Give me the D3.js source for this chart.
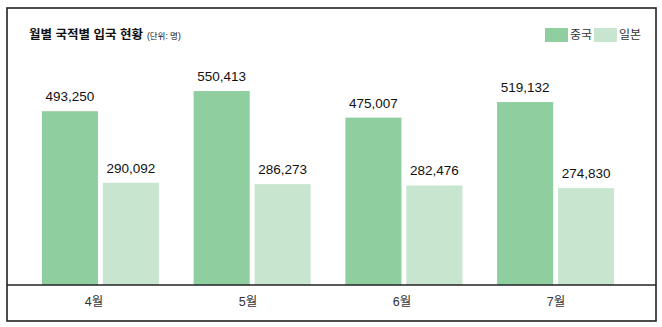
<!DOCTYPE html>
<html>
<head>
<meta charset="utf-8">
<script src="https://cdn.jsdelivr.net/npm/d3@7"></script>
<style>
  body { margin: 0; background: #fff; }
  text { font-family: "Liberation Sans", Arial, "Noto Sans CJK KR", sans-serif; }
</style>
</head>
<body>
<script>
var months = ["4월", "5월", "6월", "7월"],
  seriesNames = ["중국", "일본"],
  china = [493250, 550413, 475007, 519132],
  japan = [290092, 286273, 282476, 274830],
  colors = ["#8fce9f", "#c8e6cf"];

var width = 662,
  height = 327,
  baseY = 285;

var svg = d3.select("body").append("svg")
  .attr("width", width)
  .attr("height", height);

// frame
svg.append("rect")
  .attr("x", 7).attr("y", 8)
  .attr("width", 649).attr("height", 313)
  .attr("fill", "none")
  .attr("stroke", "#222")
  .attr("stroke-width", 1.6);

var x0 = d3.scaleBand()
  .domain(months)
  .range([24.6, 631.4])
  .paddingInner(0.229)
  .paddingOuter(0.114);

var x1 = d3.scaleBand()
  .domain(seriesNames)
  .range([0, x0.bandwidth()])
  .paddingInner(0.08);

var xLabel = d3.scalePoint()
  .domain(months)
  .range([94, 556]);

var y = d3.scaleLinear()
  .domain([0, 600000])
  .range([baseY, baseY - 600000 / 2838]);

var rows = months.map(function (m, i) {
  return { month: m, values: [china[i], japan[i]] };
});

var groups = svg.selectAll(".group")
  .data(rows)
  .enter().append("g")
  .attr("class", "group")
  .attr("transform", function (d) { return "translate(" + x0(d.month) + ",0)"; });

var bars = groups.selectAll(".bar")
  .data(function (d) { return d.values.map(function (v, j) { return { name: seriesNames[j], value: v, idx: j }; }); })
  .enter();

bars.append("rect")
  .attr("class", "bar")
  .attr("x", function (d) { return x1(d.name); })
  .attr("y", function (d) { return y(d.value); })
  .attr("width", x1.bandwidth())
  .attr("height", function (d) { return baseY - y(d.value); })
  .attr("fill", function (d) { return colors[d.idx]; });

bars.append("text")
  .attr("x", function (d) { return x1(d.name) + x1.bandwidth() / 2; })
  .attr("y", function (d) { return y(d.value) - 10; })
  .attr("text-anchor", "middle")
  .attr("font-size", 13.5)
  .attr("fill", "#111")
  .text(function (d) { return d3.format(",")(d.value); });

// axis line
svg.append("line")
  .attr("x1", 7).attr("x2", 656)
  .attr("y1", baseY).attr("y2", baseY)
  .attr("stroke", "#222")
  .attr("stroke-width", 1.4);

svg.selectAll(".mlabel")
  .data(months)
  .enter().append("text")
  .attr("class", "mlabel")
  .attr("x", function (d) { return xLabel(d); })
  .attr("y", 306)
  .attr("text-anchor", "middle")
  .attr("font-size", 12.5)
  .attr("fill", "#333")
  .text(function (d) { return d; });

// title
var title = svg.append("text")
  .attr("x", 29).attr("y", 39)
  .attr("font-size", 12.5)
  .attr("font-weight", "bold")
  .attr("fill", "#111")
  .text("월별 국적별 입국 현황");
title.append("tspan")
  .attr("font-size", 8.5)
  .attr("font-weight", "normal")
  .attr("dx", 4)
  .text("(단위: 명)");

// legend
var legendX = [545, 594];
var legend = svg.selectAll(".legend")
  .data(seriesNames)
  .enter().append("g")
  .attr("class", "legend")
  .attr("transform", function (d, i) { return "translate(" + legendX[i] + ",28)"; });

legend.append("rect")
  .attr("width", 23).attr("height", 14)
  .attr("fill", function (d, i) { return colors[i]; });

legend.append("text")
  .attr("x", 25).attr("y", 11)
  .attr("font-size", 12)
  .attr("fill", "#333")
  .text(function (d) { return d; });
</script>
</body>
</html>
